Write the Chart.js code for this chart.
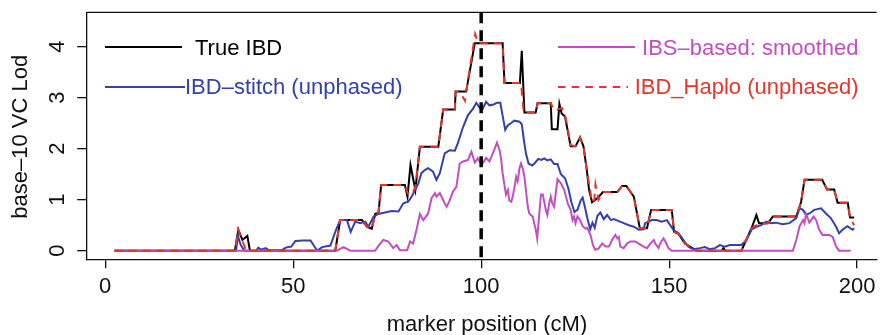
<!DOCTYPE html>
<html>
<head>
<meta charset="utf-8">
<title>base-10 VC Lod by marker position</title>
<script src="https://cdn.jsdelivr.net/npm/chart.js@4/dist/chart.umd.min.js"></script>
<style>
  html, body { margin: 0; padding: 0; background: #fff; overflow: hidden; }
</style>
</head>
<body>
<canvas id="lod-chart" width="881" height="335"></canvas>
<script>
(function () {
  'use strict';

  // marker position (cM) / lod values
  const trueX = [2.5, 34.5, 35.4, 36.5, 37.8, 38.5, 61.2, 62.5, 68.3, 69.6, 70.9, 71.8, 72.7, 73.4, 79.7, 80.4, 81.2, 82.5, 83.7, 88.6, 89.9, 93.0, 93.2, 96.0, 98.3, 105.7, 106.2, 110.3, 110.8, 111.5, 114.5, 115.0, 118.5, 118.8, 120.3, 120.8, 121.4, 122.3, 123.8, 125.1, 126.3, 127.2, 128.1, 128.7, 129.5, 130.9, 132.4, 136.2, 137.5, 138.6, 140.6, 142.2, 144.1, 145.2, 150.7, 151.3, 152.5, 154.2, 156.4, 157.3, 164.0, 164.4, 165.0, 169.2, 171.9, 173.2, 173.9, 176.3, 177.6, 183.8, 185.1, 186.0, 190.7, 192.0, 193.9, 194.8, 197.5, 198.1, 199.2];
  const trueY = [0, 0, 0.41, 0.21, 0.29, 0, 0, 0.6, 0.6, 0.47, 0.43, 0.72, 0.75, 1.29, 1.29, 1.06, 1.68, 1.19, 2.04, 2.04, 2.77, 2.77, 3.12, 3.12, 4.07, 4.07, 3.29, 3.29, 3.92, 2.71, 2.71, 2.89, 2.89, 2.38, 2.38, 2.88, 2.69, 2.63, 2.05, 2.05, 2.22, 2.05, 1.58, 1.19, 0.95, 1.03, 1.15, 1.15, 1.27, 1.27, 1.06, 0.44, 0.44, 0.8, 0.8, 0.37, 0.33, 0.14, 0.04, 0, 0, 0.05, 0, 0, 0.44, 0.7, 0.54, 0.54, 0.67, 0.67, 0.96, 1.39, 1.39, 1.2, 1.2, 0.94, 0.94, 0.65, 0.65];

  const haploX = [2.5, 34.5, 35.4, 36.2, 37.5, 61.2, 62.5, 68.3, 69.6, 70.9, 71.8, 72.7, 73.4, 79.7, 80.5, 81.5, 82.5, 83.7, 88.6, 89.9, 93.0, 93.2, 94.4, 95.7, 96.4, 98.4, 99.2, 105.7, 106.2, 110.6, 111.3, 114.5, 115.0, 118.5, 119.5, 121.5, 122.5, 123.8, 125.1, 126.3, 127.2, 128.1, 129.5, 130.1, 130.4, 131.2, 132.4, 136.2, 137.5, 138.6, 140.6, 142.2, 144.1, 145.2, 150.7, 151.3, 152.5, 154.2, 156.4, 157.3, 169.2, 171.9, 173.2, 176.3, 177.6, 183.8, 185.1, 186.0, 190.7, 192.0, 193.9, 194.8, 197.5, 198.1, 199.2];
  const haploY = [0, 0, 0.41, 0.25, 0, 0, 0.6, 0.6, 0.47, 0.43, 0.72, 0.75, 1.29, 1.29, 1.12, 1.1, 1.25, 2.04, 2.04, 2.77, 2.77, 3.12, 3.1, 2.94, 3.3, 4.25, 4.07, 4.07, 3.29, 3.29, 2.71, 2.71, 2.89, 2.89, 2.75, 2.8, 2.6, 2.07, 2.05, 2.22, 2.05, 1.58, 0.95, 1.0, 1.3, 1.0, 1.15, 1.15, 1.27, 1.27, 1.06, 0.44, 0.44, 0.8, 0.8, 0.37, 0.33, 0.14, 0.04, 0, 0, 0.44, 0.5, 0.54, 0.67, 0.67, 0.96, 1.39, 1.39, 1.2, 1.2, 0.94, 0.94, 0.65, 0.5];

  const stitchX = [2.5, 34.8, 35.3, 36.0, 37.0, 40.2, 40.7, 41.5, 42.7, 43.5, 47.0, 48.0, 49.5, 50.6, 52.5, 54.6, 56.4, 57.7, 59.9, 61.4, 62.5, 64.3, 65.3, 66.5, 67.8, 69.2, 70.0, 71.4, 72.7, 74.4, 76.2, 78.0, 79.3, 80.6, 81.5, 82.4, 83.3, 84.1, 85.0, 85.9, 87.2, 88.1, 89.0, 90.3, 91.6, 93.0, 93.8, 95.2, 96.5, 97.8, 98.7, 99.6, 100.4, 101.3, 102.2, 103.1, 104.2, 105.1, 105.7, 106.4, 107.1, 107.9, 108.8, 110.2, 110.8, 111.3, 111.9, 112.6, 113.6, 114.3, 115.2, 116.0, 116.8, 117.6, 118.5, 119.4, 120.3, 121.2, 122.3, 123.2, 124.0, 124.8, 125.6, 126.5, 127.0, 127.6, 128.2, 129.0, 129.6, 130.2, 130.9, 131.7, 132.6, 133.5, 134.5, 135.3, 136.6, 137.9, 139.3, 140.6, 141.9, 143.2, 143.6, 144.5, 145.4, 146.7, 148.0, 149.4, 151.1, 152.5, 153.8, 155.1, 156.4, 158.2, 159.5, 160.8, 162.2, 163.5, 164.8, 166.1, 167.9, 169.2, 170.6, 171.9, 173.2, 174.5, 175.8, 177.1, 178.4, 180.2, 182.0, 183.8, 184.7, 185.6, 186.4, 187.3, 188.6, 190.4, 191.7, 193.0, 194.4, 195.2, 196.1, 197.4, 198.8, 199.2];
  const stitchY = [0, 0, 0.29, 0.12, 0, 0, 0.06, 0.02, 0.05, 0.01, 0.01, 0.06, 0.08, 0.19, 0.2, 0.2, 0, 0.07, 0.1, 0.41, 0.6, 0.6, 0.37, 0.57, 0.54, 0.57, 0.47, 0.67, 0.72, 0.75, 0.78, 0.77, 0.93, 0.96, 1.06, 1.19, 1.32, 1.52, 1.58, 1.62, 1.55, 1.39, 1.52, 1.91, 1.97, 1.96, 2.11, 2.43, 2.66, 2.78, 2.9, 2.8, 2.78, 2.92, 2.85, 2.86, 2.9, 2.9, 2.65, 2.37, 2.46, 2.5, 2.55, 2.53, 2.48, 2.2, 1.91, 1.71, 1.67, 1.72, 1.8, 1.78, 1.81, 1.77, 1.79, 1.7, 1.7, 1.5, 1.42, 1.22, 0.95, 0.76, 0.8, 0.99, 1.04, 0.85, 0.65, 0.42, 0.55, 0.45, 0.68, 0.75, 0.62, 0.7, 0.6, 0.62, 0.58, 0.54, 0.5, 0.47, 0.41, 0.42, 0.54, 0.57, 0.6, 0.6, 0.57, 0.6, 0.41, 0.34, 0.21, 0.08, 0.03, 0.05, 0.07, 0.03, 0.05, 0.11, 0.08, 0.11, 0.11, 0.11, 0.21, 0.41, 0.47, 0.5, 0.57, 0.54, 0.55, 0.52, 0.54, 0.64, 0.83, 0.8, 0.7, 0.73, 0.8, 0.83, 0.73, 0.64, 0.47, 0.34, 0.41, 0.48, 0.41, 0.44];

  const ibsX = [2.5, 61.6, 63.4, 65.2, 71.8, 72.7, 74.0, 75.3, 76.6, 77.5, 78.4, 80.3, 81.1, 81.9, 82.8, 83.7, 84.6, 85.9, 86.8, 87.7, 88.1, 89.0, 89.9, 90.8, 91.6, 92.5, 93.4, 94.3, 95.2, 96.5, 97.4, 98.3, 99.1, 99.6, 100.4, 101.3, 102.2, 103.1, 104.2, 104.9, 105.3, 105.7, 106.2, 106.6, 107.1, 107.5, 108.0, 108.4, 108.8, 109.3, 109.7, 110.2, 110.6, 111.1, 111.5, 111.9, 112.4, 112.8, 113.2, 113.7, 114.1, 114.6, 114.9, 115.4, 115.9, 116.4, 116.8, 117.2, 117.6, 118.1, 118.5, 118.9, 119.4, 120.3, 121.2, 122.1, 123.0, 123.8, 124.3, 124.7, 125.1, 125.6, 126.3, 127.0, 127.8, 128.2, 129.1, 129.7, 130.3, 131.2, 132.2, 133.1, 134.0, 134.8, 135.7, 136.2, 136.6, 137.0, 137.9, 138.8, 139.7, 141.0, 141.9, 143.2, 144.1, 145.0, 145.9, 146.3, 147.2, 147.6, 148.5, 149.0, 149.8, 150.7, 182.9, 183.8, 184.7, 185.6, 186.0, 186.4, 187.3, 188.4, 189.1, 189.9, 190.8, 192.6, 193.5, 194.4, 195.2, 198.3];
  const ibsY = [0, 0, 0.07, 0, 0, 0.1, 0.21, 0.18, 0.05, 0.11, 0.01, 0.01, 0.18, 0.14, 0.41, 0.72, 0.6, 0.73, 1.03, 1.13, 1.06, 1.13, 0.99, 0.86, 0.98, 1.16, 1.25, 1.71, 1.75, 1.78, 1.94, 1.73, 1.81, 1.75, 1.71, 1.82, 1.75, 1.91, 2.12, 1.97, 1.8, 1.52, 1.28, 1.1, 1.19, 0.98, 0.96, 1.06, 1.22, 1.45, 1.36, 1.62, 1.71, 1.6, 1.45, 1.19, 0.86, 0.73, 0.7, 0.67, 0.54, 0.38, 0.24, 0.67, 1.1, 1.1, 0.95, 0.8, 0.7, 0.93, 1.06, 0.93, 0.86, 1.4, 1.32, 1.19, 0.93, 0.8, 0.6, 0.67, 0.54, 0.67, 0.6, 0.48, 0.43, 0.45, 0.3, 0.12, 0.02, 0.04, 0.14, 0.08, 0.08, 0.21, 0.31, 0.24, 0.27, 0.08, 0.05, 0.14, 0.18, 0.18, 0.14, 0.08, 0.05, 0.14, 0.21, 0.14, 0.05, 0.14, 0.24, 0.18, 0.05, 0, 0, 0.21, 0.48, 0.6, 0.54, 0.72, 0.55, 0.67, 0.6, 0.41, 0.31, 0.31, 0.27, 0.08, 0, 0];

  const xTicks = [0, 50, 100, 150, 200];
  const yTicks = [0, 1, 2, 3, 4];
  const markerPos = 100;

  const ink = '#111111';
  const black = '#000000';
  const blue = '#3242a8';
  const magenta = '#c24fc2';
  const red = '#e5362b';
  const fontFamily = "'Liberation Sans', Arial, Helvetica, sans-serif";

  Chart.defaults.font.family = fontFamily;
  Chart.defaults.font.size = 22;
  Chart.defaults.color = ink;

  const pts = (xs, ys) => xs.map((x, i) => ({ x: x, y: ys[i] }));

  const lineDefaults = {
    fill: false,
    tension: 0,
    pointRadius: 0,
    pointHoverRadius: 0,
    borderWidth: 2,
  };

  // legend drawn by hand, R style: two columns, no frame
  const legendLeft = [
    { label: 'True IBD', color: black, dash: [], x0: 105, x1: 182, tx: 195, ly: 47, ty: 55 },
    { label: 'IBD\u2013stitch (unphased)', color: blue, dash: [], x0: 105, x1: 185, tx: 185, ly: 87, ty: 93.5 },
  ];
  const legendRight = [
    { label: 'IBS\u2013based: smoothed', color: magenta, dash: [], x0: 558, x1: 635, tx: 858.5, ly: 47, ty: 55 },
    { label: 'IBD_Haplo (unphased)', color: red, dash: [7.5, 6.2], x0: 558, x1: 628, tx: 858.5, ly: 87, ty: 93.5 },
  ];

  const decorations = {
    id: 'decorations',
    afterDatasetsDraw(chart) {
      const { ctx, chartArea: a, scales: { x } } = chart;
      const px = x.getPixelForValue(markerPos);
      ctx.save();
      ctx.strokeStyle = black;
      ctx.lineWidth = 3.5;
      ctx.setLineDash([11, 7]);
      ctx.beginPath();
      ctx.moveTo(px, a.top);
      ctx.lineTo(px, a.bottom);
      ctx.stroke();
      ctx.restore();
    },
    afterDraw(chart) {
      const { ctx, chartArea: a, scales: { y } } = chart;
      ctx.save();

      // top edge of the box (right edge falls outside the picture)
      ctx.strokeStyle = ink;
      ctx.lineWidth = 1.3;
      ctx.beginPath();
      ctx.moveTo(a.left, a.top);
      ctx.lineTo(a.right, a.top);
      ctx.stroke();

      ctx.fillStyle = ink;
      ctx.font = '22px ' + fontFamily;
      ctx.textBaseline = 'alphabetic';

      // y tick labels, rotated like R's las = 0
      ctx.textAlign = 'center';
      yTicks.forEach((v) => {
        ctx.save();
        ctx.translate(63.7, y.getPixelForValue(v));
        ctx.rotate(-Math.PI / 2);
        ctx.fillText(String(v), 0, 0);
        ctx.restore();
      });

      // axis titles
      ctx.save();
      ctx.translate(26.5, 136.7);
      ctx.rotate(-Math.PI / 2);
      ctx.fillText('base\u201310 VC Lod', 0, 0);
      ctx.restore();
      ctx.fillText('marker position (cM)', 487, 331);

      // legend
      const drawEntry = (e, align) => {
        ctx.strokeStyle = e.color;
        ctx.lineWidth = 2;
        ctx.setLineDash(e.dash);
        ctx.beginPath();
        ctx.moveTo(e.x0, e.ly);
        ctx.lineTo(e.x1, e.ly);
        ctx.stroke();
        ctx.setLineDash([]);
        ctx.fillStyle = e.color;
        ctx.textAlign = align;
        ctx.fillText(e.label, e.tx, e.ty);
      };
      legendLeft.forEach((e) => drawEntry(e, 'left'));
      legendRight.forEach((e) => drawEntry(e, 'right'));

      ctx.restore();
    },
  };

  new Chart(document.getElementById('lod-chart'), {
    type: 'line',
    data: {
      datasets: [
        { label: 'IBD_Haplo (unphased)', data: pts(haploX, haploY), borderColor: red, borderDash: [8, 6], order: 0, ...lineDefaults },
        { label: 'IBS\u2013based: smoothed', data: pts(ibsX, ibsY), borderColor: magenta, order: 1, ...lineDefaults },
        { label: 'IBD\u2013stitch (unphased)', data: pts(stitchX, stitchY), borderColor: blue, order: 2, ...lineDefaults },
        { label: 'True IBD', data: pts(trueX, trueY), borderColor: black, order: 3, ...lineDefaults },
      ],
    },
    options: {
      responsive: false,
      animation: false,
      events: [],
      layout: { padding: { top: 12.3, left: 0, right: 0, bottom: 0 } },
      plugins: {
        legend: { display: false },
        tooltip: { enabled: false },
      },
      scales: {
        x: {
          type: 'linear',
          min: -4.92,
          max: 205.2,
          afterBuildTicks: (scale) => { scale.ticks = xTicks.map((v) => ({ value: v })); },
          afterFit: (scale) => { scale.height = 75.7; },
          grid: { drawOnChartArea: false, drawTicks: true, tickLength: 9, color: ink, lineWidth: 1.3 },
          border: { display: true, color: ink, width: 1.3 },
          ticks: { padding: 5.5, maxRotation: 0, color: ink, font: { size: 22 } },
        },
        y: {
          type: 'linear',
          min: -0.169,
          max: 4.675,
          afterBuildTicks: (scale) => { scale.ticks = yTicks.map((v) => ({ value: v })); },
          afterFit: (scale) => { scale.width = 86.7; },
          grid: { drawOnChartArea: false, drawTicks: true, tickLength: 9.5, color: ink, lineWidth: 1.3 },
          border: { display: true, color: ink, width: 1.3 },
          ticks: { display: false },
        },
      },
    },
    plugins: [decorations],
  });
})();
</script>
</body>
</html>
